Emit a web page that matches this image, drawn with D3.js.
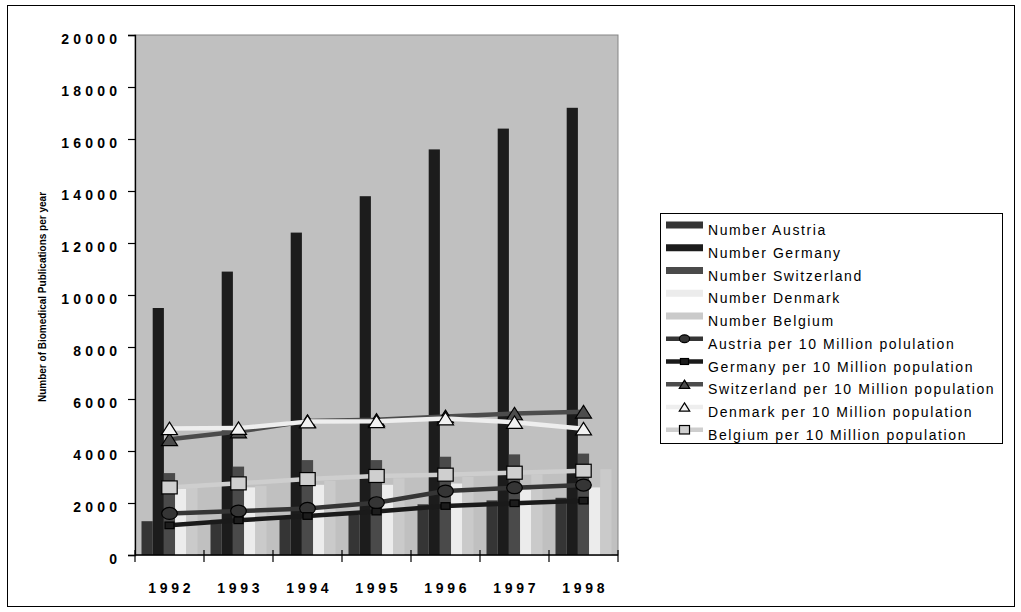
<!DOCTYPE html>
<html>
<head>
<meta charset="utf-8">
<script src="https://cdn.jsdelivr.net/npm/d3@7"></script>
<style>
  body { margin: 0; background: #fff; }
  svg { display: block; font-family: Arial, "Liberation Sans", sans-serif; }
</style>
</head>
<body>
<svg id="chart" width="1021" height="612"></svg>
<script>
// Biomedical publications per year, absolute numbers (bars) and per 10 million inhabitants (lines)
const years = ["1992", "1993", "1994", "1995", "1996", "1997", "1998"];

const numberAustria     = [1300, 1350, 1450, 1550, 1950, 2100, 2200];
const numberGermany     = [9500, 10900, 12400, 13800, 15600, 16400, 17200];
const numberSwitzerland = [3150, 3400, 3650, 3650, 3780, 3870, 3900];
const numberDenmark     = [2550, 2600, 2700, 2700, 2750, 2500, 2600];
const numberBelgium     = [2600, 2650, 2850, 2950, 3000, 3100, 3300];

const perAustria     = [1600, 1690, 1790, 2010, 2460, 2590, 2690];
const perGermany     = [1140, 1335, 1500, 1670, 1885, 1990, 2090];
const perSwitzerland = [4450, 4750, 5150, 5200, 5330, 5440, 5510];
const perDenmark     = [4870, 4880, 5130, 5140, 5250, 5110, 4860];
const perBelgium     = [2600, 2755, 2920, 3040, 3090, 3165, 3240];

const yTicks = [0, 2000, 4000, 6000, 8000, 10000, 12000, 14000, 16000, 18000, 20000];
const yTitle = "Number of Biomedical Publications per year";

const barSeries = [
  { name: "Number Austria",     values: numberAustria,     color: "#353535" },
  { name: "Number Germany",     values: numberGermany,     color: "#1c1c1c" },
  { name: "Number Switzerland", values: numberSwitzerland, color: "#4a4a4a" },
  { name: "Number Denmark",     values: numberDenmark,     color: "#ececec" },
  { name: "Number Belgium",     values: numberBelgium,     color: "#cacaca" }
];

const lineSeries = [
  { name: "Austria per 10 Million polulation",       values: perAustria,     color: "#353535", fill: "#353535", shape: "circle" },
  { name: "Germany per 10 Million population",       values: perGermany,     color: "#1a1a1a", fill: "#1c1c1c", shape: "smallSquare" },
  { name: "Switzerland per 10 Million population",   values: perSwitzerland, color: "#4c4c4c", fill: "#4c4c4c", shape: "triangle" },
  { name: "Denmark per 10 Million population",       values: perDenmark,     color: "#eeeeee", fill: "#f2f2f2", shape: "triangle" },
  { name: "Belgium per 10 Million population",       values: perBelgium,     color: "#cecece", fill: "#cfcfcf", shape: "square" }
];

const svg = d3.select("#chart");

const plot = { left: 135, right: 618, top: 35, bottom: 555 };

const x0 = d3.scaleBand().domain(years).range([plot.left, plot.right]).padding(0);
const x1 = d3.scaleBand().domain(barSeries.map(d => d.name)).range([6.5, x0.bandwidth() - 6.5]).padding(0);
const y = d3.scaleLinear().domain([0, 20000]).range([plot.bottom, plot.top]);

// outer frame
svg.append("rect")
  .attr("x", 7.5).attr("y", 5.5).attr("width", 1007).attr("height", 601)
  .attr("fill", "none").attr("stroke", "#000").attr("stroke-width", 1);

// plot area
svg.append("rect")
  .attr("x", plot.left).attr("y", plot.top)
  .attr("width", plot.right - plot.left).attr("height", plot.bottom - plot.top)
  .attr("fill", "#c0c0c0").attr("stroke", "#858585").attr("stroke-width", 1);

// bars
const groups = svg.append("g").selectAll("g")
  .data(years).join("g")
  .attr("transform", d => `translate(${x0(d)},0)`);

groups.selectAll("rect")
  .data((yr, i) => barSeries.map(s => ({ s, v: s.values[i] })))
  .join("rect")
  .attr("x", d => x1(d.s.name))
  .attr("width", x1.bandwidth())
  .attr("y", d => y(d.v))
  .attr("height", d => y(0) - y(d.v))
  .attr("fill", d => d.s.color);

// y axis
const yAxis = d3.axisLeft(y).tickValues(yTicks).tickSize(7).tickPadding(10).tickFormat(d3.format("d"));
const gy = svg.append("g").attr("transform", `translate(${plot.left},0)`).call(yAxis);
gy.select(".domain").attr("stroke", "#000").attr("stroke-width", 1.3);
gy.selectAll(".tick line").attr("stroke", "#000").attr("stroke-width", 1.2);
gy.selectAll(".tick text")
  .attr("font-size", 14).attr("font-weight", "bold").attr("fill", "#000")
  .attr("letter-spacing", 4.2)
  .attr("x", -18 + 4.2)
  .attr("dy", null)
  .attr("y", 8.5);

// x axis: ticks sit on category boundaries
const gx = svg.append("g").attr("transform", `translate(0,${plot.bottom})`);
gx.append("line")
  .attr("x1", plot.left).attr("x2", plot.right)
  .attr("stroke", "#000").attr("stroke-width", 1.3);
const boundaries = years.map(d => x0(d)).concat([plot.right]);
gx.selectAll("line.tk").data(boundaries).join("line").attr("class", "tk")
  .attr("x1", d => d).attr("x2", d => d).attr("y1", -5).attr("y2", 7)
  .attr("stroke", "#000").attr("stroke-width", 1.2);
gx.selectAll("text").data(years).join("text")
  .attr("x", d => x0(d) + x0.bandwidth() / 2 + 3.7 / 2)
  .attr("y", 38)
  .attr("text-anchor", "middle")
  .attr("font-size", 14).attr("font-weight", "bold")
  .attr("letter-spacing", 3.7)
  .text(d => d);

// y axis title
svg.append("text")
  .attr("transform", "translate(46,297) rotate(-90)")
  .attr("text-anchor", "middle")
  .attr("font-size", 10).attr("font-weight", "bold")
  .text(yTitle);

// marker drawing
function drawMarker(sel, shape, fill, scale) {
  const k = scale || 1;
  if (shape === "circle") {
    sel.append("ellipse").attr("rx", 7.8 * k).attr("ry", 6 * k)
      .attr("fill", fill).attr("stroke", "#000").attr("stroke-width", 1.2);
  } else if (shape === "square") {
    sel.append("rect").attr("x", -7.7 * k).attr("y", -6.5 * k)
      .attr("width", 15.4 * k).attr("height", 13 * k)
      .attr("fill", fill).attr("stroke", "#000").attr("stroke-width", 1.2);
  } else if (shape === "smallSquare") {
    sel.append("rect").attr("x", -4.5 * k).attr("y", -3.3 * k)
      .attr("width", 9 * k).attr("height", 6.6 * k)
      .attr("fill", fill).attr("stroke", "#000").attr("stroke-width", 1.2);
  } else if (shape === "triangle") {
    const w = 8 * k, h = 6.3 * k;
    sel.append("path").attr("d", `M0,${-h}L${w},${h}L${-w},${h}Z`)
      .attr("fill", fill).attr("stroke", "#000").attr("stroke-width", 1.2);
  }
}

// lines with markers
const cx = d => x0(d) + x0.bandwidth() / 2;
const lineGen = d3.line().x((v, i) => cx(years[i])).y(v => y(v));

lineSeries.forEach(s => {
  const g = svg.append("g");
  g.append("path").attr("d", lineGen(s.values))
    .attr("fill", "none").attr("stroke", s.color).attr("stroke-width", 4.5)
    .attr("stroke-linejoin", "round");
  s.values.forEach((v, i) => {
    const m = g.append("g").attr("transform", `translate(${cx(years[i])},${y(v)})`);
    drawMarker(m, s.shape, s.fill, 1);
  });
});

// legend
const legend = { x: 660, y: 213, w: 342, h: 230 };
svg.append("rect")
  .attr("x", legend.x + 0.5).attr("y", legend.y + 0.5)
  .attr("width", legend.w).attr("height", legend.h)
  .attr("fill", "#fff").attr("stroke", "#000").attr("stroke-width", 1);

const entries = barSeries.map(s => ({ s, type: "bar" }))
  .concat(lineSeries.map(s => ({ s, type: "line" })));

entries.forEach((e, i) => {
  const cy = 225 + 22.75 * i;
  const g = svg.append("g");
  if (e.type === "bar") {
    g.append("rect").attr("x", 666).attr("y", cy - 3.5).attr("width", 37).attr("height", 7)
      .attr("fill", e.s.color);
  } else {
    g.append("line").attr("x1", 666).attr("x2", 703).attr("y1", cy).attr("y2", cy)
      .attr("stroke", e.s.color).attr("stroke-width", 4.5);
    const m = g.append("g").attr("transform", `translate(684.5,${cy})`);
    drawMarker(m, e.s.shape, e.s.fill, e.s.shape === "smallSquare" ? 0.9 : 0.65);
  }
  g.append("text").attr("x", 708).attr("y", cy + 10)
    .attr("font-size", 14).attr("letter-spacing", 1.6)
    .text(e.s.name);
});
</script>
</body>
</html>
